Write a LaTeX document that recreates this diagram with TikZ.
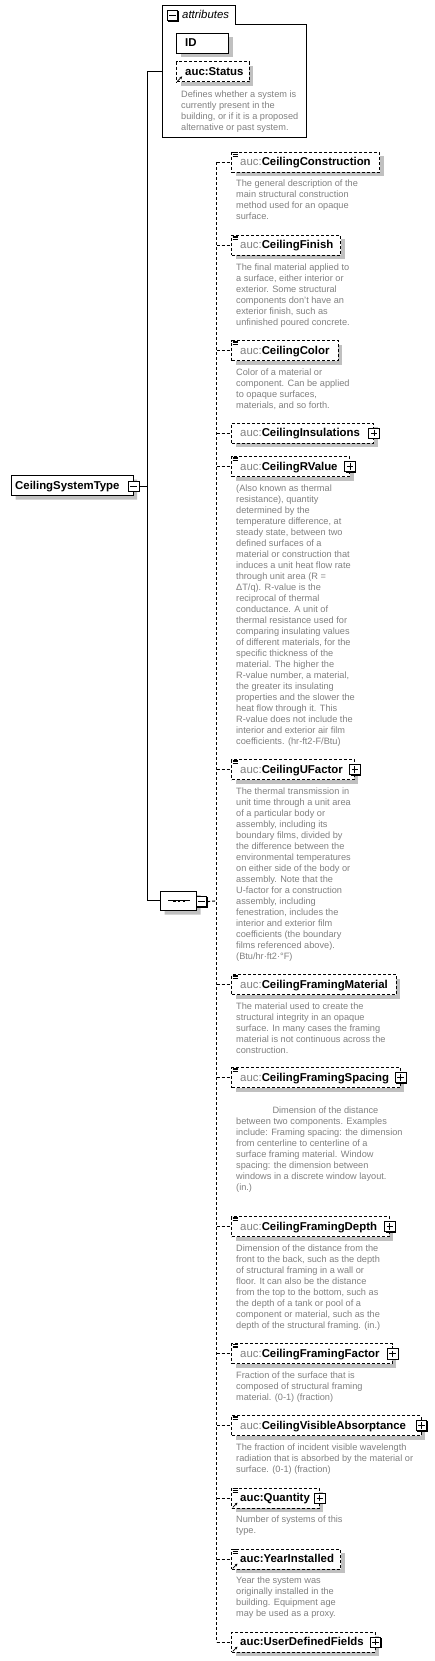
\documentclass[tikz,border=0pt]{standalone}
\usepackage{fontspec}
\setmainfont{Liberation Sans}
\usetikzlibrary{shadows,shapes.misc,arrows.meta}
\definecolor{shd}{RGB}{192,192,192}
\definecolor{dsc}{RGB}{128,128,128}
\newcommand\pfx{\textcolor{dsc}{\mdseries auc:}}
\newcommand\lineicon[1]{%
  \foreach \k in {1,2.7,4.4} \draw[line width=0.6pt] ([xshift=1.2pt,yshift=-\k pt]#1.north west) -- ++(5pt,0pt);}
\newcommand\refarrow[1]{%
  \draw[line width=0.8pt,-{Stealth[length=2.6pt,width=2.8pt]}] ([xshift=1.5pt,yshift=1.4pt]#1.south west) -- ++(4.6pt,4.6pt);}
\tikzset{
  ln/.style={line width=1pt},
  dln/.style={line width=1pt,dash pattern=on 3pt off 2pt},
  elbox/.style={draw,line width=1pt,dash pattern=on 3pt off 2pt,fill=white,inner sep=0pt,
    minimum height=20pt,anchor=north west,
    drop shadow={shadow xshift=4pt,shadow yshift=-4pt,fill=shd,opacity=1}},
  solbox/.style={elbox,solid},
  ttl/.style={font=\fontsize{11.4}{13}\selectfont\bfseries,anchor=base west,inner sep=0pt},
  dtext/.style={font=\fontsize{9.2}{11}\selectfont,text=dsc,align=left,anchor=north west,inner sep=0pt},
  btn/.style={draw,fill=white,line width=0.8pt,minimum size=10.5pt,inner sep=0pt,
    drop shadow={shadow xshift=1pt,shadow yshift=-1pt,fill=black,opacity=1}},
  plusbtn/.style={btn,path picture={
    \draw[line width=0.8pt] ([xshift=2pt]path picture bounding box.west) -- ([xshift=-2pt]path picture bounding box.east);
    \draw[line width=0.8pt] ([yshift=-2pt]path picture bounding box.north) -- ([yshift=2pt]path picture bounding box.south);}},
  minusbtn/.style={btn,path picture={
    \draw[line width=0.8pt] ([xshift=2pt]path picture bounding box.west) -- ([xshift=-2pt]path picture bounding box.east);}},
  cstshape/.style={draw,line width=1pt,fill=white,chamfered rectangle,
    chamfered rectangle corners={north west,south west},chamfered rectangle xsep=4pt,
    chamfered rectangle ysep=4pt,minimum width=121.3pt,minimum height=20pt,inner sep=0pt,
    drop shadow={shadow xshift=4pt,shadow yshift=-4pt,fill=shd,opacity=1}},
  seqshape/.style={draw,line width=1pt,fill=white,chamfered rectangle,
    chamfered rectangle xsep=5pt,chamfered rectangle ysep=5pt,
    minimum width=36pt,minimum height=19.7pt,inner sep=0pt,
    drop shadow={shadow xshift=4pt,shadow yshift=-4pt,fill=shd,opacity=1}},
}
\begin{document}
\begin{tikzpicture}[x=1pt,y=-1pt]
\useasboundingbox (0,0) rectangle (435,1661);

% ---------- attributes group ----------
\draw[ln] (162,5.3) -- (235.3,5.3) -- (235.3,24.3) -- (306.3,24.3) -- (306.3,138) -- (162,138) -- cycle;
\node[minusbtn] (attrbtn) at (172.5,15.5) {};
\node[anchor=base west,inner sep=0pt,font=\fontsize{11.4}{13}\selectfont\itshape] (attrlbl) at (182,18.5) {attributes};
\node[solbox,minimum width=52pt] (id) at (176,33) {};
\node[ttl] (idt) at (185,47) {ID};
\node[elbox,minimum width=72.7pt] (status) at (176,61.5) {};
\node[ttl] (statust) at (185,75.5) {auc:Status};
\refarrow{status}
\node[dtext] (statusd) at (181,89) {\rule{0pt}{8pt}Defines whether a system is\\currently present in the\\building, or if it is a proposed\\alternative or past system.};
\coordinate (attrw) at (162,72);

% ---------- root ----------
\node[cstshape] (cst) at (72.35,485.7) {};
\node[ttl] (cstt) at (15,489.7) {CeilingSystemType};
\node[minusbtn] (cstbtn) at (133.7,486.2) {};

% ---------- sequence ----------
\node[seqshape] (seq) at (178.7,900.85) {};
\draw[line width=0.8pt] (168.3,900.85) -- (190,900.85);
\foreach \q in {174.4,179.1,183.8} \fill (\q-1.3,899.55) rectangle (\q+1.3,902.15);
\node[minusbtn] (seqbtn) at (201.5,901.6) {};

% ---------- solid connectors ----------
\coordinate (jt) at (147.3,72);
\coordinate (jb) at (147.3,900.85);
\draw[ln] (cstbtn.east) -- (cstbtn.east -| jt);
\draw[ln] (jt) -- (jb);
\draw[ln] (jt) -- (attrw);
\draw[ln] (jb) -- (seq.west);

% ---------- children ----------
\node[elbox,minimum width=147.7pt] (c1) at (231.3,151.7) {};
\node[elbox,minimum width=108.7pt] (c2) at (231.3,235) {};
\node[elbox,minimum width=106.4pt] (c3) at (231.3,340) {};
\node[elbox,minimum width=141.7pt] (c4) at (231.3,422.7) {};
\node[elbox,minimum width=117.7pt] (c5) at (231.3,456) {};
\node[elbox,minimum width=122.5pt] (c6) at (231.3,759) {};
\node[elbox,minimum width=164.4pt] (c7) at (231.3,974) {};
\node[elbox,minimum width=168.4pt] (c8) at (231.3,1067) {};
\node[elbox,minimum width=157.5pt] (c9) at (231.3,1216) {};
\node[elbox,minimum width=160.4pt] (c10) at (231.3,1343.3) {};
\node[elbox,minimum width=189.2pt] (c11) at (231.3,1415) {};
\node[elbox,minimum width=87.5pt] (c12) at (231.3,1487.7) {};
\node[elbox,minimum width=108.7pt] (c13) at (231.3,1548.7) {};
\node[elbox,minimum width=143.2pt] (c14) at (231.3,1631.7) {};

\foreach \c in {c1,c2,c3,c5,c6,c7,c8,c9,c10,c11,c12,c13} {\lineicon{\c}}
\foreach \c in {c12,c13,c14} {\refarrow{\c}}
\foreach \c in {c4,c5,c6,c8,c9,c10,c11,c12,c14} {\node[plusbtn] (p\c) at (\c.east) {};}

\node[ttl] (t1) at (240,165.7) {\pfx CeilingConstruction};
\node[ttl] (t2) at (240,249) {\pfx CeilingFinish};
\node[ttl] (t3) at (240,354) {\pfx CeilingColor};
\node[ttl] (t4) at (240,436.7) {\pfx CeilingInsulations};
\node[ttl] (t5) at (240,470) {\pfx CeilingRValue};
\node[ttl] (t6) at (240,773) {\pfx CeilingUFactor};
\node[ttl] (t7) at (240,988) {\pfx CeilingFramingMaterial};
\node[ttl] (t8) at (240,1081) {\pfx CeilingFramingSpacing};
\node[ttl] (t9) at (240,1230) {\pfx CeilingFramingDepth};
\node[ttl] (t10) at (240,1357.3) {\pfx CeilingFramingFactor};
\node[ttl] (t11) at (240,1429) {\pfx CeilingVisibleAbsorptance};
\node[ttl] (t12) at (240,1501.7) {auc:Quantity};
\node[ttl] (t13) at (240,1562.7) {auc:YearInstalled};
\node[ttl] (t14) at (240,1645.7) {auc:UserDefinedFields};

% ---------- descriptions ----------
\node[dtext] (d1) at (236,178.7) {\rule{0pt}{8pt}The general description of the\\main structural construction\\method used for an opaque\\surface.};
\node[dtext] (d2) at (236,262) {\rule{0pt}{8pt}The final material applied to\\a surface, either interior or\\exterior. Some structural\\components don't have an\\exterior finish, such as\\unfinished poured concrete.};
\node[dtext] (d3) at (236,367) {\rule{0pt}{8pt}Color of a material or\\component. Can be applied\\to opaque surfaces,\\materials, and so forth.};
\node[dtext] (d5) at (236,483) {\rule{0pt}{8pt}(Also known as thermal\\resistance), quantity\\determined by the\\temperature difference, at\\steady state, between two\\defined surfaces of a\\material or construction that\\induces a unit heat flow rate\\through unit area (R =\\ΔT/q). R-value is the\\reciprocal of thermal\\conductance. A unit of\\thermal resistance used for\\comparing insulating values\\of different materials, for the\\specific thickness of the\\material. The higher the\\R-value number, a material,\\the greater its insulating\\properties and the slower the\\heat flow through it. This\\R-value does not include the\\interior and exterior air film\\coefficients. (hr-ft2-F/Btu)};
\node[dtext] (d6) at (236,786) {\rule{0pt}{8pt}The thermal transmission in\\unit time through a unit area\\of a particular body or\\assembly, including its\\boundary films, divided by\\the difference between the\\environmental temperatures\\on either side of the body or\\assembly. Note that the\\U-factor for a construction\\assembly, including\\fenestration, includes the\\interior and exterior film\\coefficients (the boundary\\films referenced above).\\(Btu/hr·ft2·°F)};
\node[dtext] (d7) at (236,1001) {\rule{0pt}{8pt}The material used to create the\\structural integrity in an opaque\\surface. In many cases the framing\\material is not continuous across the\\construction.};
\node[dtext] (d8) at (236,1105.7) {\rule{0pt}{8pt}\hspace*{36.3pt}Dimension of the distance\\between two components. Examples\\include: Framing spacing: the dimension\\from centerline to centerline of a\\surface framing material. Window\\spacing: the dimension between\\windows in a discrete window layout.\\(in.)};
\node[dtext] (d9) at (236,1243) {\rule{0pt}{8pt}Dimension of the distance from the\\front to the back, such as the depth\\of structural framing in a wall or\\floor. It can also be the distance\\from the top to the bottom, such as\\the depth of a tank or pool of a\\component or material, such as the\\depth of the structural framing. (in.)};
\node[dtext] (d10) at (236,1370.3) {\rule{0pt}{8pt}Fraction of the surface that is\\composed of structural framing\\material. (0-1) (fraction)};
\node[dtext] (d11) at (236,1442) {\rule{0pt}{8pt}The fraction of incident visible wavelength\\radiation that is absorbed by the material or\\surface. (0-1) (fraction)};
\node[dtext] (d12) at (236,1514.7) {\rule{0pt}{8pt}Number of systems of this\\type.};
\node[dtext] (d13) at (236,1575.7) {\rule{0pt}{8pt}Year the system was\\originally installed in the\\building. Equipment age\\may be used as a proxy.};

% ---------- dashed connectors ----------
\coordinate (sp) at (216.7,900.85);
\draw[dln] (seqbtn.east) -- (sp);
\draw[dln] (c1.west -| sp) -- (c14.west -| sp);
\foreach \c in {c1,c2,c3,c4,c5,c6,c7,c8,c9,c10,c11,c12,c13,c14} {\draw[dln] (\c.west -| sp) -- (\c.west);}
\end{tikzpicture}
\end{document}
